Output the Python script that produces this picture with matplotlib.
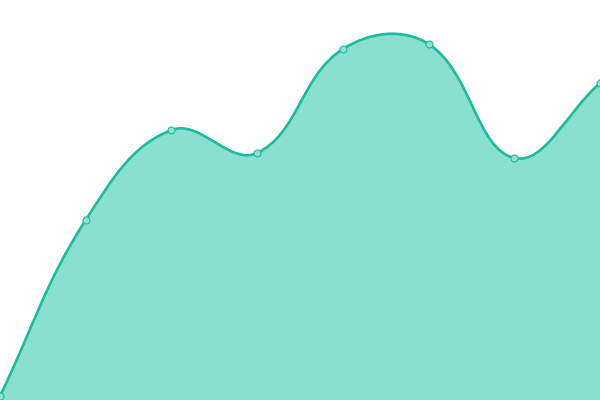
import matplotlib
matplotlib.use("Agg")
import matplotlib.pyplot as plt
import numpy as np
from matplotlib.path import Path
from matplotlib.patches import PathPatch

# データ (8点)
categories = ["1", "2", "3", "4", "5", "6", "7", "8"]
values = [4, 180, 270, 247, 351, 356, 242, 317]

line_color = "#1abc9c"
fill_color = "#89e0cf"
tension = 0.4

fig = plt.figure(figsize=(6, 4), dpi=100)
ax = fig.add_axes([0, 0, 1, 1])
ax.set_xlim(0, len(categories) - 1)
ax.set_ylim(0, 400)
ax.axis("off")

xs = np.arange(len(categories))
pts = ax.transData.transform(np.column_stack([xs, values]))

# Chart.js風のベジェ制御点 (ピクセル空間で計算)
verts = [pts[0]]
codes = [Path.MOVETO]
ctrl = []
for i in range(len(pts)):
    prev = pts[i - 1] if i > 0 else pts[i]
    cur = pts[i]
    nxt = pts[i + 1] if i < len(pts) - 1 else pts[i]
    d01 = np.hypot(*(cur - prev))
    d12 = np.hypot(*(nxt - cur))
    tot = d01 + d12
    s01 = d01 / tot if tot else 0
    s12 = d12 / tot if tot else 0
    c_prev = cur - tension * s01 * (nxt - prev)
    c_next = cur + tension * s12 * (nxt - prev)
    ctrl.append((c_prev, c_next))
for i in range(1, len(pts)):
    verts += [ctrl[i - 1][1], ctrl[i][0], pts[i]]
    codes += [Path.CURVE4] * 3

inv = ax.transData.inverted()
curve = inv.transform(np.array(verts))

line_path = Path(curve, codes)
fill_verts = np.vstack([curve, [[xs[-1], 0], [xs[0], 0], curve[0]]])
fill_codes = codes + [Path.LINETO, Path.LINETO, Path.CLOSEPOLY]
ax.add_patch(PathPatch(Path(fill_verts, fill_codes), facecolor=fill_color,
                       edgecolor="none", zorder=1))
ax.add_patch(PathPatch(line_path, facecolor="none", edgecolor=line_color,
                       linewidth=1.9, zorder=2))
ax.plot(xs, values, linestyle="none", marker="o", markersize=5,
        markerfacecolor="#8ee3d2", markeredgecolor=line_color,
        markeredgewidth=0.8, zorder=3, clip_on=True)

fig.savefig("out.png", dpi=100)
